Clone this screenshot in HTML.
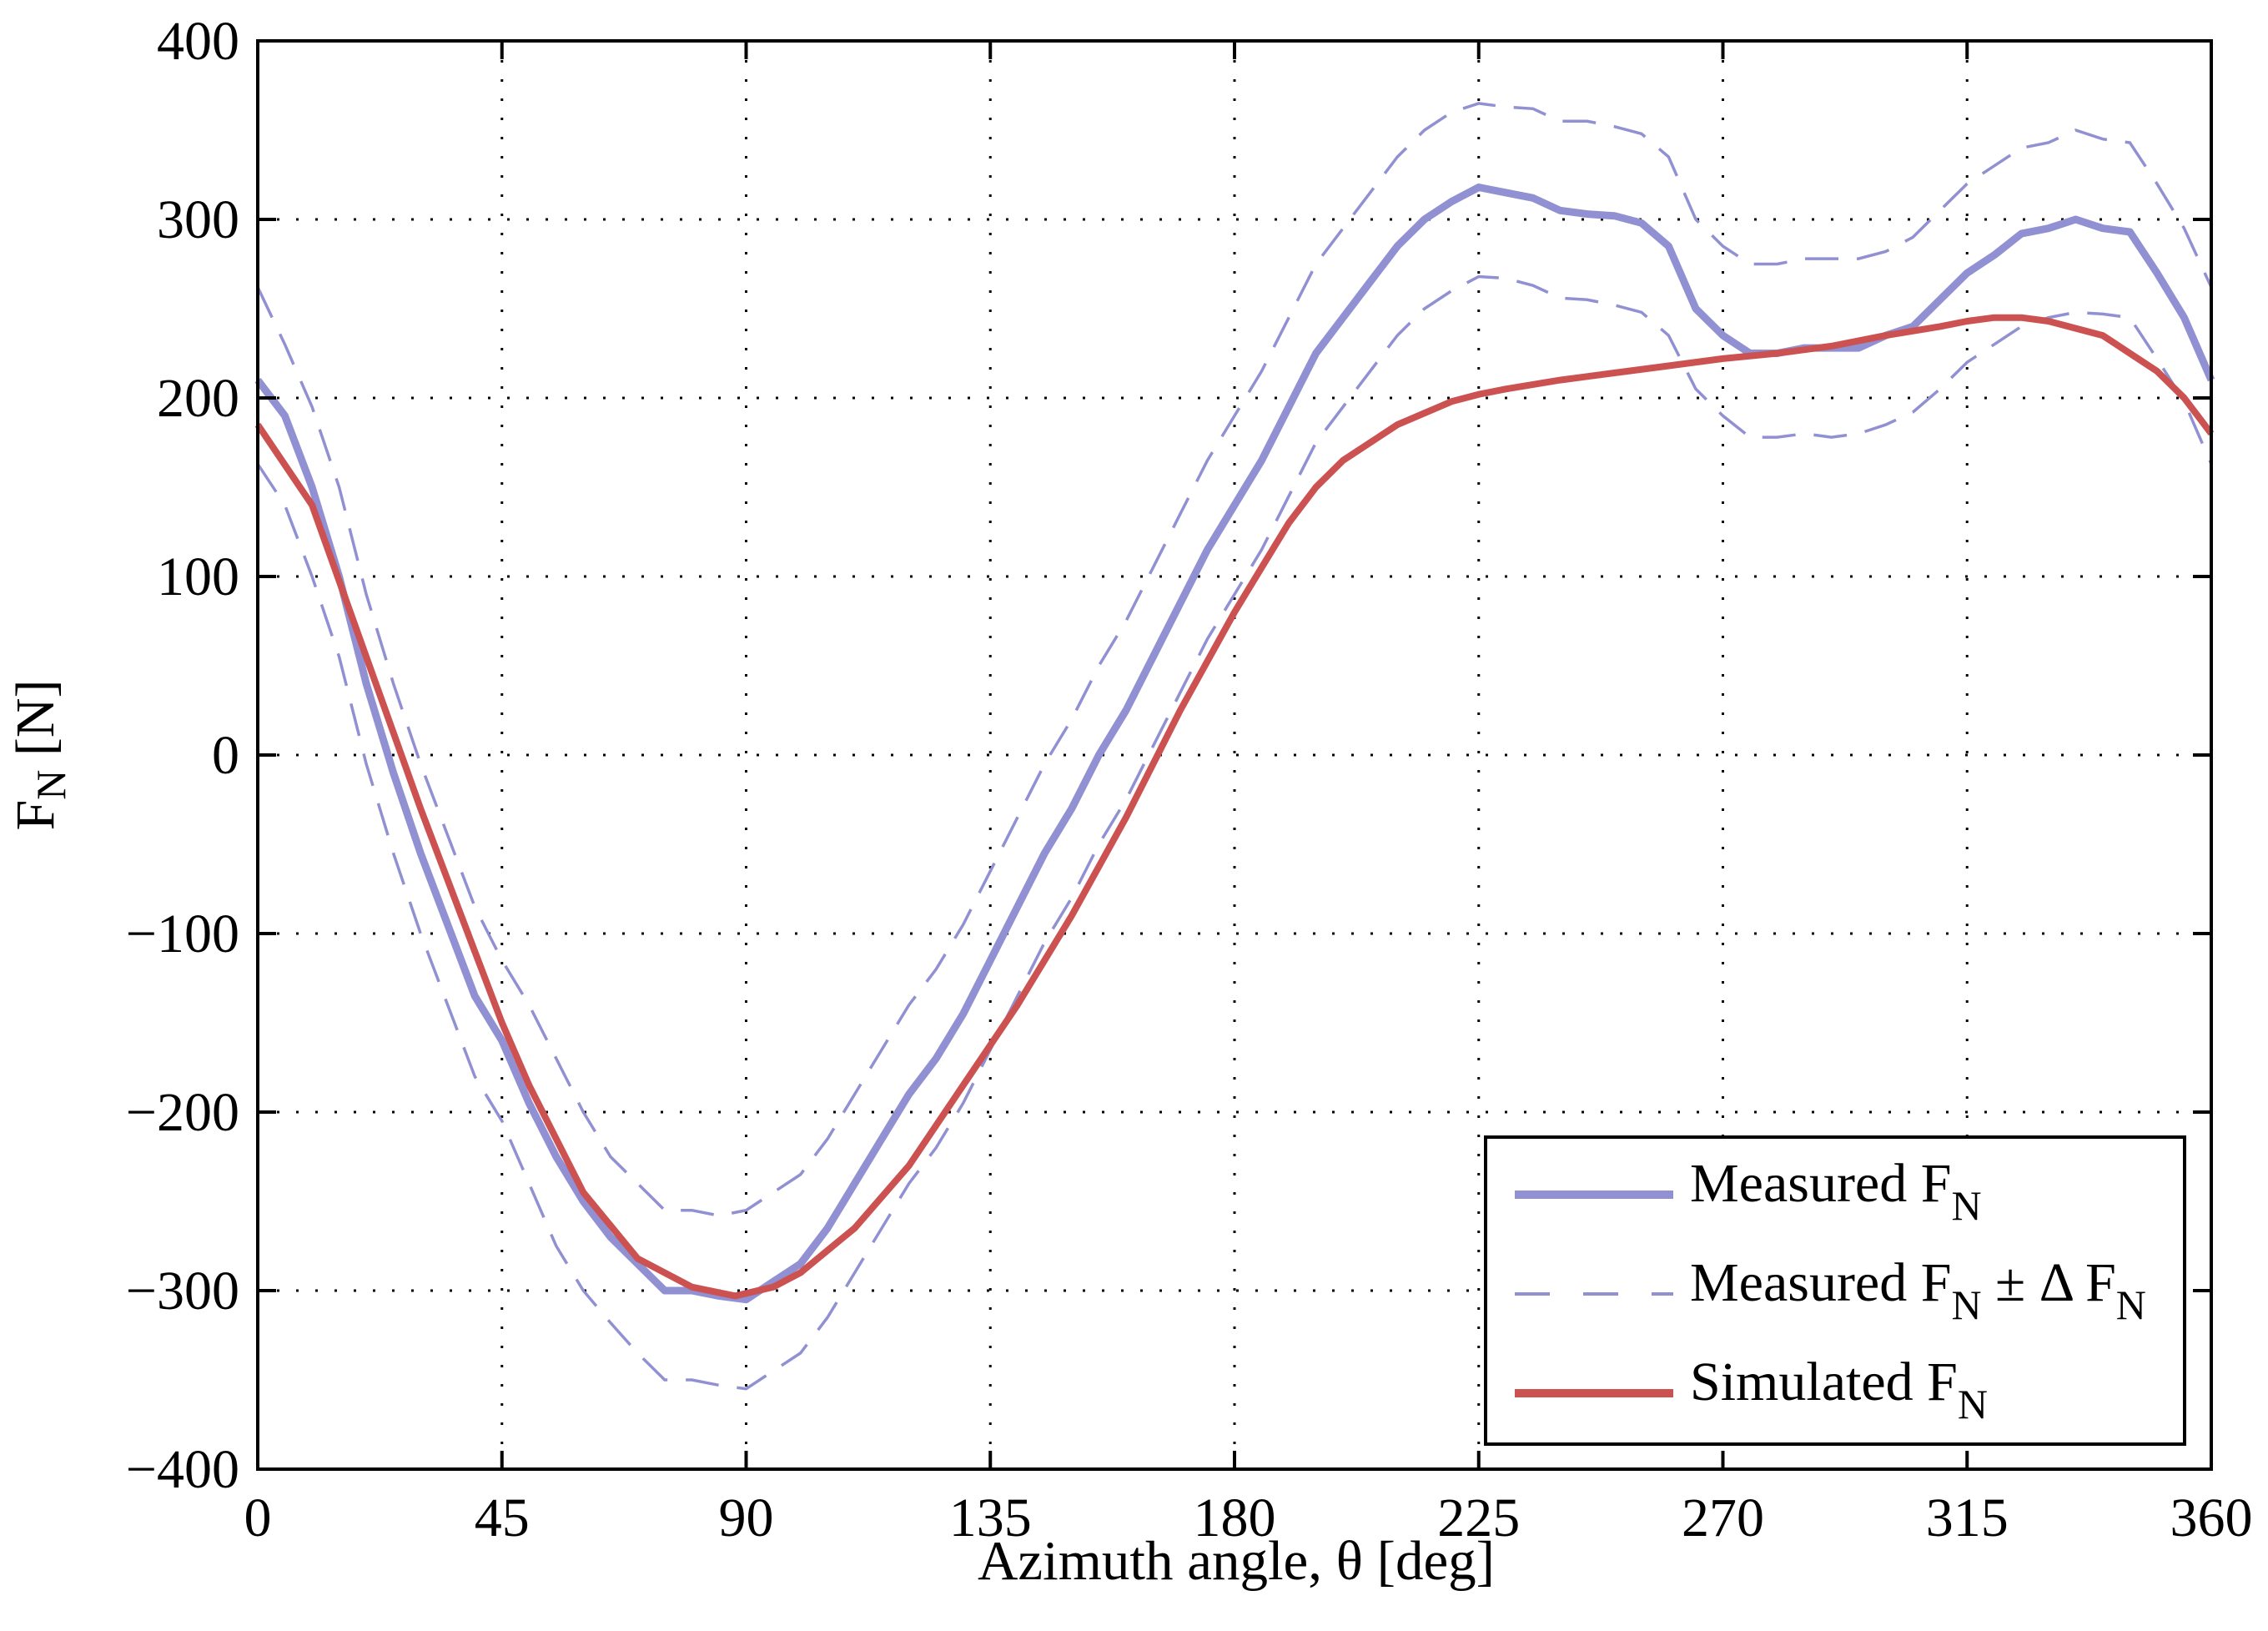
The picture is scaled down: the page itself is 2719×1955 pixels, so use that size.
<!DOCTYPE html>
<html><head><meta charset="utf-8"><style>
html,body{margin:0;padding:0;background:#fff;}
svg{display:block;font-family:"Liberation Serif",serif;}
</style></head><body>
<svg id="chart" width="2719" height="1955" viewBox="0 0 2719 1955" xmlns="http://www.w3.org/2000/svg">
<rect x="0" y="0" width="2719" height="1955" fill="#fff"/>
<g id="grid"></g>
<g id="series"></g>
<g id="axes"></g>
<text x="1482" y="1893" font-size="67" text-anchor="middle">Azimuth angle, θ [deg]</text>
<text transform="translate(64,905) rotate(-90)" font-size="66" text-anchor="middle">F<tspan font-size="50" dy="14">N</tspan><tspan dy="-14"> [N]</tspan></text>
<g id="legend">
<rect x="1781" y="1363" width="838" height="368" fill="#fff" stroke="#000" stroke-width="4"/>
<line x1="1816" y1="1432" x2="2006" y2="1432" stroke="#9090d2" stroke-width="10"/>
<text x="2026" y="1440" font-size="66">Measured F<tspan font-size="50" dy="22">N</tspan></text>
<line x1="1816" y1="1551" x2="2006" y2="1551" stroke="#9090d2" stroke-width="4" stroke-dasharray="42,40"/>
<text x="2026" y="1559" font-size="66">Measured F<tspan font-size="50" dy="22">N</tspan><tspan dy="-22"> ± Δ F</tspan><tspan font-size="50" dy="22">N</tspan></text>
<line x1="1816" y1="1670" x2="2006" y2="1670" stroke="#cc5252" stroke-width="10"/>
<text x="2026" y="1678" font-size="66">Simulated F<tspan font-size="50" dy="22">N</tspan></text>
</g>
</svg>
<script>
const xTicks=[0,45,90,135,180,225,270,315,360];
const yTicks=[-400,-300,-200,-100,0,100,200,300,400];
const measX=[0,5,10,15,20,25,30,35,40,45,50,55,60,65,70,75,80,85,90,95,100,105,110,115,120,125,130,135,140,145,150,155,160,165,170,175,180,185,190,195,200,205,210,215,220,225,230,235,240,245,250,255,260,265,270,275,280,285,290,295,300,305,310,315,320,325,330,335,340,345,350,355,360];
const measured=[210,190,150,100,40,-10,-55,-95,-135,-160,-195,-225,-250,-270,-285,-300,-300,-303,-305,-295,-285,-265,-240,-215,-190,-170,-145,-115,-85,-55,-30,0,25,55,85,115,140,165,195,225,245,265,285,300,310,318,315,312,305,303,302,298,285,250,235,225,225,228,228,228,235,240,255,270,280,292,295,300,295,293,270,245,210];
const upper=[262,230,195,150,90,40,-5,-45,-85,-115,-140,-170,-200,-225,-240,-255,-255,-258,-255,-245,-235,-215,-190,-165,-140,-120,-95,-65,-35,-5,20,50,75,105,135,165,190,215,245,275,295,315,335,350,360,365,363,362,355,355,352,348,335,300,285,275,275,278,278,278,282,290,305,320,330,340,343,350,345,343,320,295,262];
const lower=[163,140,100,55,-5,-55,-100,-140,-180,-205,-240,-275,-300,-318,-335,-350,-350,-353,-355,-345,-335,-315,-290,-265,-240,-220,-195,-165,-135,-105,-80,-50,-25,5,35,65,90,115,145,175,195,215,235,250,260,268,267,263,256,255,252,248,235,205,190,178,178,180,178,180,185,192,205,220,230,240,245,248,247,245,222,198,163];
const simX=[0,10,20,30,40,45,50,60,70,80,88,95,100,110,120,130,140,150,160,170,180,185,190,195,200,210,220,225,230,240,250,260,270,280,290,300,310,315,320,325,330,340,350,355,360];
const simulated=[185,140,55,-30,-110,-150,-185,-245,-282,-298,-303,-298,-290,-265,-230,-185,-140,-90,-35,25,80,105,130,150,165,185,198,202,205,210,214,218,222,225,229,235,240,243,245,245,243,235,215,200,180];

const L=309,R=2651,T=49,B=1761;
const sx=v=>L+(v-0)/(360-0)*(R-L);
const sy=v=>B-(v+400)/800*(B-T);
const NS="http://www.w3.org/2000/svg";
function mk(tag,attrs,parent){const e=document.createElementNS(NS,tag);for(const k in attrs)e.setAttribute(k,attrs[k]);parent.appendChild(e);return e;}
const grid=document.getElementById('grid'),ser=document.getElementById('series'),axes=document.getElementById('axes');
xTicks.forEach(t=>{
  if(t>0&&t<360){const g=mk('line',{x1:sx(t),y1:T,x2:sx(t),y2:B,stroke:'#000','stroke-width':3,'stroke-dasharray':'3,20'},grid);
  
  }
  const tk=mk('line',{x1:sx(t),y1:B,x2:sx(t),y2:B-22,stroke:'#000','stroke-width':4},axes);
  
  
  const tk2=mk('line',{x1:sx(t),y1:T,x2:sx(t),y2:T+22,stroke:'#000','stroke-width':4},axes);
  
  
  const lb=mk('text',{x:sx(t),y:B+80,'font-size':66,'text-anchor':'middle'},axes);lb.textContent=t;
  
  
});
yTicks.forEach(t=>{
  if(t>-400&&t<400){const g=mk('line',{x1:L,y1:sy(t),x2:R,y2:sy(t),stroke:'#000','stroke-width':3,'stroke-dasharray':'3,20'},grid);
  
  }
  const tk=mk('line',{x1:L,y1:sy(t),x2:L+22,y2:sy(t),stroke:'#000','stroke-width':4},axes);
  
  
  const tk2=mk('line',{x1:R,y1:sy(t),x2:R-22,y2:sy(t),stroke:'#000','stroke-width':4},axes);
  
  
  const lb=mk('text',{x:L-22,y:sy(t)+22,'font-size':66,'text-anchor':'end'},axes);lb.textContent=(t<0?'\u2212'+(-t):t);
  
  
});
const frame=mk('rect',{x:L,y:T,width:R-L,height:B-T,fill:'none',stroke:'#000','stroke-width':4},axes);


function path(xs,ys){return xs.map((x,i)=>(i?'L':'M')+sx(x).toFixed(1)+','+sy(ys[i]).toFixed(1)).join('');}
const pu=mk('path',{d:path(measX,upper),fill:'none',stroke:'#9090d2','stroke-width':3.5,'stroke-dasharray':'40,22'},ser);


const pl=mk('path',{d:path(measX,lower),fill:'none',stroke:'#9090d2','stroke-width':3.5,'stroke-dasharray':'40,22'},ser);


const pm=mk('path',{d:path(measX,measured),fill:'none',stroke:'#9090d2','stroke-width':9,'stroke-linejoin':'round'},ser);


const ps=mk('path',{d:path(simX,simulated),fill:'none',stroke:'#cc5252','stroke-width':8,'stroke-linejoin':'round'},ser);


</script>
</body></html>
